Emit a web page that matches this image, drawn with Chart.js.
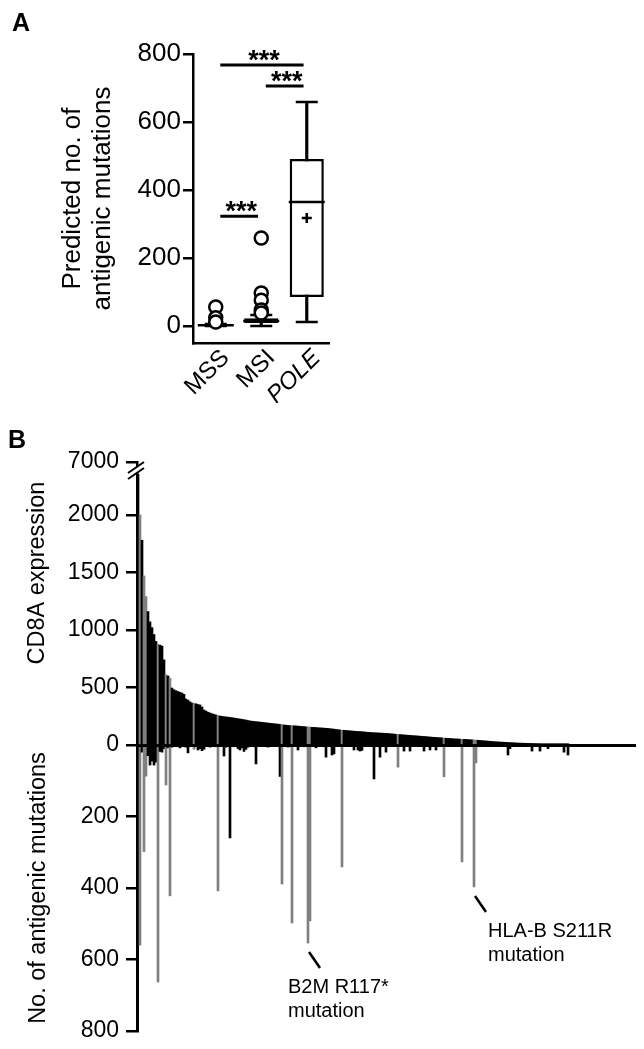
<!DOCTYPE html>
<html>
<head>
<meta charset="utf-8">
<script src="https://cdn.jsdelivr.net/npm/chart.js@4.4.1/dist/chart.umd.min.js"></script>
<style>
  body { margin: 0; background: #fff; }
  #page { position: relative; width: 644px; height: 1049px; overflow: hidden; font-family: 'Liberation Sans', Arial, sans-serif; }
  .letter { position: absolute; font-weight: bold; font-size: 25px; line-height: 24px; }
  canvas { position: absolute; left: 0; }
</style>
</head>
<body>
<div id="page">
  <canvas id="boxChart" width="350" height="420" style="top:0"></canvas>
  <canvas id="mutChart" width="644" height="304" style="top:745px"></canvas>
  <canvas id="cd8Chart" width="644" height="341" style="top:420px"></canvas>
  <div class="letter" style="left:12px;top:10px">A</div>
  <div class="letter" style="left:8px;top:427px">B</div>
</div>
<script>
// ---------- panel A : antigenic mutations per subtype ----------
const groups = ['MSS', 'MSI', 'POLE'];
const whiskerLow = [0, 0, 12];
const q1 = [0, 9, 85];
const median = [2, 15, 365];
const q3 = [4, 23, 491];
const whiskerHigh = [6, 32, 659];
const means = [5, 26, 318];
const mssOutliers = [56, 24, 12];
const msiOutliers = [259, 97, 76, 47, 38];
const yTicksA = [0, 200, 400, 600, 800];
// [from group, to group, height]
const sigPairs = [[0, 2, 768], [1, 2, 706], [0, 1, 323]];

// ---------- panel B : samples ranked by CD8A ----------
const nSamples = 249;
const cd8a = [
  7000, 2000, 1780, 1470, 1290, 1160, 1070, 1020, 960, 900,
  875, 868, 860, 740, 610, 600, 580, 495, 480, 472,
  465, 458, 452, 440, 400, 390, 375, 365, 362, 358,
  352, 348, 330, 304, 295, 285, 278, 272, 266, 261,
  256, 252, 249, 246, 244, 242, 240, 237, 235, 232,
  229, 226, 223, 220, 217, 213, 209, 207, 205, 203,
  201, 199, 197, 195, 193, 191, 189, 187, 185, 183,
  181, 179, 177, 174, 172, 170, 169, 168, 167, 166,
  164, 163, 161, 160, 158, 157, 156, 154, 153, 152,
  150, 149, 148, 147, 145, 144, 142, 140, 138, 135,
  133, 131, 129, 128, 126, 125, 123, 122, 120, 119,
  118, 117, 115, 114, 112, 110, 109, 108, 107, 106,
  105, 104, 103, 102, 101, 100, 98, 97, 95, 93,
  92, 91, 89, 88, 86, 85, 84, 82, 81, 80,
  78, 77, 75, 74, 73, 71, 70, 68, 67, 66,
  64, 63, 62, 60, 59, 58, 57, 55, 54, 53,
  52, 51, 50, 49, 48, 47, 46, 45, 44, 43,
  41, 40, 38, 37, 35, 34, 32, 31, 29, 28,
  27, 26, 25, 24, 23, 22, 21, 20, 19, 18,
  17, 16, 16, 15, 15, 14, 14, 13, 13, 12,
  12, 11, 11, 10, 10, 9, 9, 8, 8, 7,
  7, 6, 6, 5, 5, 4
];
const antigenic = [
  0, 560, 20, 298, 87, 30, 56, 45, 56, 48,
  663, 18, 20, 10, 112, 8, 422, 6, 4, 0,
  5, 8, 3, 0, 6, 22, 4, 0, 12, 5,
  14, 10, 16, 12, 4, 0, 6, 3, 0, 5,
  408, 4, 0, 31, 6, 0, 260, 3, 5, 0,
  10, 14, 8, 18, 12, 6, 4, 0, 5, 53,
  3, 0, 4, 0, 2, 6, 0, 3, 0, 4,
  0, 88, 389, 3, 0, 6, 0, 498, 0, 4,
  14, 0, 3, 5, 0, 554, 492, 0, 4, 8,
  0, 3, 0, 5, 34, 0, 4, 28, 25, 0,
  3, 0, 341, 0, 4, 0, 3, 0, 14, 0,
  14, 17, 15, 0, 3, 0, 4, 0, 95, 0,
  5, 34, 0, 3, 20, 0, 4, 0, 3, 0,
  62, 0, 3, 17, 0, 4, 17, 0, 3, 0,
  4, 0, 3, 17, 0, 0, 14, 3, 0, 14,
  0, 3, 0, 89, 0, 4, 0, 3, 0, 0,
  4, 0, 327, 0, 3, 0, 4, 0, 397, 50,
  0, 3, 0, 0, 4, 0, 0, 3, 0, 0,
  4, 0, 0, 3, 0, 28, 10, 0, 0, 3,
  0, 0, 4, 0, 0, 3, 0, 17, 0, 0,
  4, 17, 0, 0, 3, 10, 0, 0, 4, 0,
  0, 3, 0, 20, 0, 28
];
// samples drawn in grey
const greySamples = [1, 3, 4, 10, 14, 16, 28, 40, 72, 77, 85, 86, 102, 130, 153, 162, 168, 169];
const cd8Ticks = [0, 500, 1000, 1500, 2000];
const cd8Break = 2460;      // axis is cut here ...
const cd8BreakLabel = 7000; // ... and labelled with the top value
const mutTicks = [200, 400, 600, 800];
const callouts = [
  {sample: 85, text: ['B2M R117*', 'mutation'], dx: -20},
  {sample: 168, text: ['HLA-B S211R', 'mutation'], dx: 14}
];

const font = "'Liberation Sans', Arial, sans-serif";
Chart.defaults.color = '#000';
Chart.defaults.font.family = font;

const byGroup = arr => arr.map((v, i) => ({x: groups[i], y: v}));
const sampleLabels = Array.from({length: nSamples}, (_, i) => 'S' + (i + 1));
const barColors = n => Array.from({length: n}, (_, i) => greySamples.includes(i) ? '#808080' : '#000');
// keep the plot area where layout.padding puts it
const noOverhang = s => { s.paddingTop = 0; s.paddingBottom = 0; s.paddingLeft = 0; s.paddingRight = 0; };

// *** above the significance bars
const starsPlugin = {
    id: 'stars',
    afterDatasetsDraw(chart) {
        const {ctx, scales: {xl, y}} = chart;
        ctx.save();
        ctx.font = 'bold 27px ' + font;
        ctx.textAlign = 'center';
        ctx.fillStyle = '#000';
        sigPairs.forEach(([a, b, h]) => {
            const xm = (xl.getPixelForValue(a + 0.1) + xl.getPixelForValue(b - 0.07)) / 2 + 2;
            ctx.fillText('***', xm, y.getPixelForValue(h) + 4);
        });
        ctx.restore();
    }
};

// the // break on the CD8A axis
const axisBreak = {
    id: 'axisBreak',
    afterDraw(chart) {
        const {ctx, chartArea: {left, top}} = chart;
        ctx.save();
        ctx.fillStyle = '#fff';
        ctx.fillRect(left + 1.5, top - 2, 6, 14);
        ctx.beginPath();
        ctx.moveTo(left - 9, top + 11);
        ctx.lineTo(left + 7, top);
        ctx.lineTo(left + 7, top + 6);
        ctx.lineTo(left - 9, top + 17);
        ctx.closePath();
        ctx.fill();
        ctx.strokeStyle = '#000';
        ctx.lineWidth = 2;
        ctx.beginPath();
        ctx.moveTo(left - 9, top + 11);
        ctx.lineTo(left + 7, top);
        ctx.moveTo(left - 9, top + 17);
        ctx.lineTo(left + 7, top + 6);
        ctx.stroke();
        ctx.restore();
    }
};

// labels for the two marked mutations
const calloutPlugin = {
    id: 'callouts',
    afterDatasetsDraw(chart) {
        const {ctx, scales: {x, y}} = chart;
        ctx.save();
        ctx.strokeStyle = '#000';
        ctx.fillStyle = '#000';
        ctx.lineWidth = 2.5;
        ctx.font = '20px ' + font;
        callouts.forEach(c => {
            const px = x.getPixelForValue(c.sample);
            const py = y.getPixelForValue(antigenic[c.sample]);
            ctx.beginPath();
            ctx.moveTo(px + 1, py + 9);
            ctx.lineTo(px + 12, py + 25);
            ctx.stroke();
            c.text.forEach((t, k) => ctx.fillText(t, px + c.dx, py + 50 + k * 24));
        });
        ctx.restore();
    }
};

const axisY = {
    border: {display: true, width: 3, color: '#000'},
    grid: {drawOnChartArea: false, color: '#000', tickLength: 11, lineWidth: 2.5},
};

// ---------- panel A ----------
new Chart('boxChart', {
    type: 'bar',
    data: {
        labels: groups,
        datasets: [
            {
                data: groups.map((g, i) => [q1[i], q3[i]]),
                backgroundColor: '#fff', borderColor: '#000', borderWidth: 2.5, borderSkipped: false,
                barPercentage: 0.75, categoryPercentage: 1, grouped: false, order: 2
            },
            {
                data: groups.map((g, i) => [whiskerLow[i], whiskerHigh[i]]),
                backgroundColor: '#000', barThickness: 2.5, grouped: false, order: 3
            },
            {
                type: 'line', data: [...byGroup(whiskerLow), ...byGroup(whiskerHigh)], showLine: false,
                pointStyle: 'line', pointRadius: 11, pointBorderWidth: 2.5, borderColor: '#000', pointBorderColor: '#000', order: 1
            },
            {
                type: 'line', data: byGroup(median), showLine: false,
                pointStyle: 'line', pointRadius: 18, pointBorderWidth: 2.5, borderColor: '#000', pointBorderColor: '#000', order: 1
            },
            {
                type: 'line', data: byGroup(means), showLine: false,
                pointStyle: 'cross', pointRadius: 5, pointBorderWidth: 2.5, borderColor: '#000', pointBorderColor: '#000', order: 1
            },
            {
                type: 'line',
                data: [...mssOutliers.map(v => ({x: 'MSS', y: v})), ...msiOutliers.map(v => ({x: 'MSI', y: v}))],
                showLine: false, pointStyle: 'circle', pointRadius: 6.5, pointBorderWidth: 2.5,
                borderColor: '#000', pointBorderColor: '#000', pointBackgroundColor: '#fff', order: 0
            },
            ...sigPairs.map(([a, b, h]) => ({
                type: 'line', xAxisID: 'xl',
                data: [{x: a + 0.1, y: h}, {x: b - 0.07, y: h}],
                borderColor: '#000', borderWidth: 3, pointRadius: 0, order: 0
            }))
        ]
    },
    options: {
        responsive: false,
        animation: false,
        layout: {padding: {left: 0, top: 54, right: 14, bottom: 17}},
        plugins: {legend: {display: false}, tooltip: {enabled: false}},
        scales: {
            x: {
                border: {display: true, width: 2.5, color: '#000'},
                grid: {display: false},
                ticks: {
                    minRotation: 45, maxRotation: 45, padding: -7, labelOffset: 10,
                    font: c => ({family: font, size: 24, style: c.tick && c.tick.label === 'POLE' ? 'italic' : 'normal'})
                },
                afterFit: s => { noOverhang(s); s.height = 60; }
            },
            // same span as the category axis, lets the brackets start between groups
            xl: {
                type: 'linear', min: -0.5, max: 2.5, offset: false, grace: 0,
                ticks: {display: false}, grid: {display: false, offset: false}, border: {display: false},
                afterFit: s => { noOverhang(s); s.height = 0; }
            },
            y: {
                min: -50, max: 800,
                afterBuildTicks: s => { s.ticks = yTicksA.map(v => ({value: v})); },
                afterFit: s => { noOverhang(s); s.width = 193; },
                border: {display: true, width: 2.5, color: '#000'},
                grid: {drawOnChartArea: false, color: '#000', tickLength: 10, lineWidth: 2.5},
                ticks: {padding: 2, font: {size: 26}, callback: v => String(v)},
                title: {
                    display: true, text: ['Predicted no. of', 'antigenic mutations'],
                    font: {size: 26, lineHeight: 1.15}, padding: {top: 58}
                }
            }
        }
    },
    plugins: [starsPlugin]
});

// ---------- panel B, lower half: antigenic mutations ----------
new Chart('mutChart', {
    type: 'bar',
    data: {
        labels: sampleLabels,
        datasets: [{
            data: antigenic, backgroundColor: barColors(antigenic.length),
            barPercentage: 1, categoryPercentage: 1, borderWidth: 0
        }]
    },
    options: {
        responsive: false,
        animation: false,
        layout: {padding: {left: 0, right: 9, top: 0, bottom: 18}},
        plugins: {legend: {display: false}, tooltip: {enabled: false}},
        scales: {
            x: {display: false},
            y: {
                ...axisY,
                reverse: true, min: 0, max: 800,
                afterBuildTicks: s => { s.ticks = mutTicks.map(v => ({value: v})); },
                afterFit: s => { noOverhang(s); s.width = 137; },
                ticks: {padding: 7, font: {size: 23}, callback: v => String(v)},
                title: {display: true, text: 'No. of antigenic mutations', font: {size: 23.5}, padding: {top: 24}}
            }
        }
    },
    plugins: [calloutPlugin]
});

// ---------- panel B, upper half: CD8A expression ----------
new Chart('cd8Chart', {
    type: 'bar',
    data: {
        labels: sampleLabels,
        datasets: [{
            data: cd8a, backgroundColor: barColors(cd8a.length),
            barPercentage: 1, categoryPercentage: 1, borderWidth: 0
        }]
    },
    options: {
        responsive: false,
        animation: false,
        layout: {padding: {left: 0, right: 9, top: 42, bottom: 16}},
        plugins: {legend: {display: false}, tooltip: {enabled: false}},
        scales: {
            x: {
                ticks: {display: false},
                grid: {display: false},
                border: {display: true, width: 3, color: '#000'},
                afterFit: s => { noOverhang(s); s.height = 0; }
            },
            y: {
                ...axisY,
                min: 0, max: cd8Break,
                afterBuildTicks: s => { s.ticks = [...cd8Ticks, cd8Break].map(v => ({value: v})); },
                afterFit: s => { noOverhang(s); s.width = 137; },
                ticks: {padding: 7, font: {size: 23}, callback: v => v === cd8Break ? String(cd8BreakLabel) : String(v)},
                // trailing spaces nudge the title down the axis, as in the original
                title: {display: true, text: 'CD8A expression\u00a0\u00a0\u00a0', align: 'end', font: {size: 23.5}, padding: {top: 23}}
            }
        }
    },
    plugins: [axisBreak]
});
</script>
</body>
</html>
